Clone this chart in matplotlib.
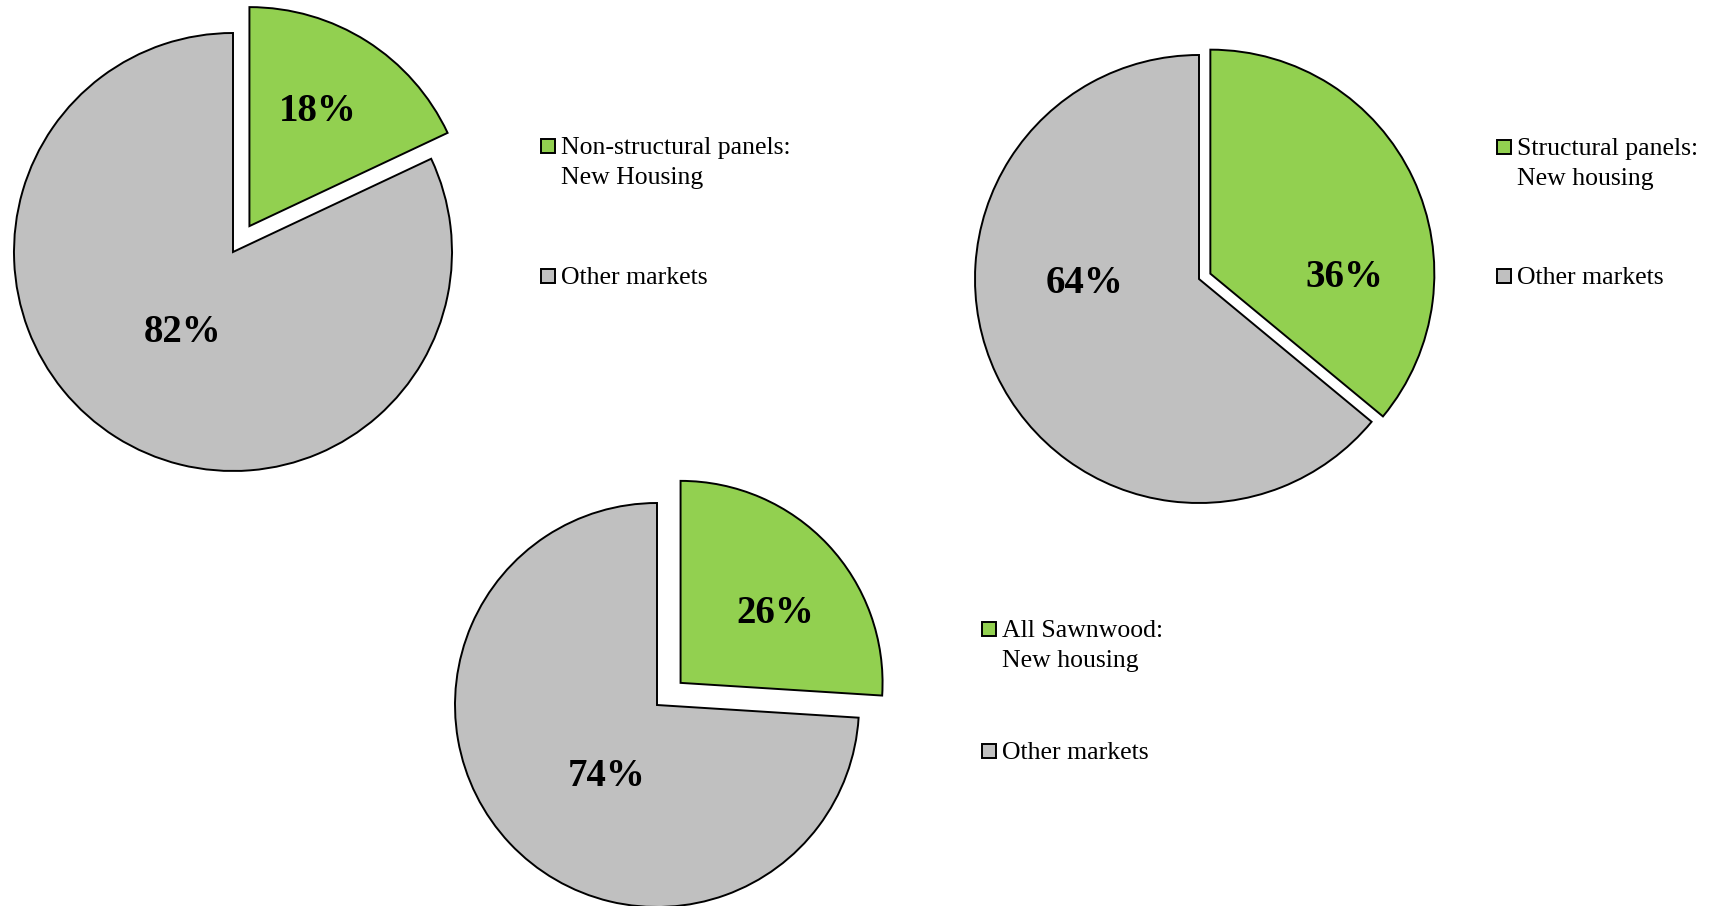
import matplotlib.pyplot as plt
from matplotlib.patches import Rectangle

plt.rcParams['font.family'] = ['Liberation Serif', 'DejaVu Serif']

# data
labels_nonstruct = ['Non-structural panels:\nNew Housing', 'Other markets']
share_nonstruct = [18, 82]
labels_struct = ['Structural panels:\nNew housing', 'Other markets']
share_struct = [36, 64]
labels_sawn = ['All Sawnwood:\nNew housing', 'Other markets']
share_sawn = [26, 74]
colors = ['#92D050', '#C0C0C0']

W, H = 1721, 906
fig = plt.figure(figsize=(W / 100, H / 100), dpi=100)


def fx(x):
    return x / W


def fy(y):
    return 1 - y / H


def draw_pie(values, cx, cy, r, explode, label_off):
    pad = 1.3
    ax = fig.add_axes([fx(cx - pad * r), fy(cy + pad * r), 2 * pad * r / W, 2 * pad * r / H])
    wedges, _ = ax.pie(values, colors=colors, explode=[explode, 0], startangle=90,
                       counterclock=False, radius=1,
                       wedgeprops=dict(edgecolor='black', linewidth=1.4))
    for w, v, (dx, dy) in zip(wedges, values, label_off):
        ax.text(w.center[0] + dx, w.center[1] + dy - 0.018, f'{v}%', ha='center', va='center',
                fontsize=28, fontweight='bold')
    ax.set_xlim(-pad, pad)
    ax.set_ylim(-pad, pad)
    ax.set_aspect('equal')
    ax.axis('off')


def draw_legend(labels, x, y1, y_other):
    ys = [y1, y_other]
    for lab, col, y in zip(labels, colors, ys):
        fig.add_artist(Rectangle((fx(x), fy(y + 7)), 14 / W, 14 / H, facecolor=col,
                                 edgecolor='black', linewidth=1.4, transform=fig.transFigure))
        for i, line in enumerate(lab.split('\n')):
            fig.text(fx(x + 20), fy(y + 30 * i + 8), line, fontsize=18.5, va='baseline', ha='left')


draw_pie(share_nonstruct, 233, 252, 219, 0.14, [(0.31, 0.54), (-0.23, -0.35)])
draw_pie(share_struct, 1199, 279, 224, 0.056, [(0.60, 0.0), (-0.51, 0.0)])
draw_pie(share_sawn, 657, 705, 202, 0.16, [(0.47, 0.36), (-0.25, -0.335)])

draw_legend(labels_nonstruct, 541, 146, 276)
draw_legend(labels_struct, 1497, 147, 276)
draw_legend(labels_sawn, 982, 629, 751)

fig.savefig('out.png', dpi=100)
plt.close(fig)
